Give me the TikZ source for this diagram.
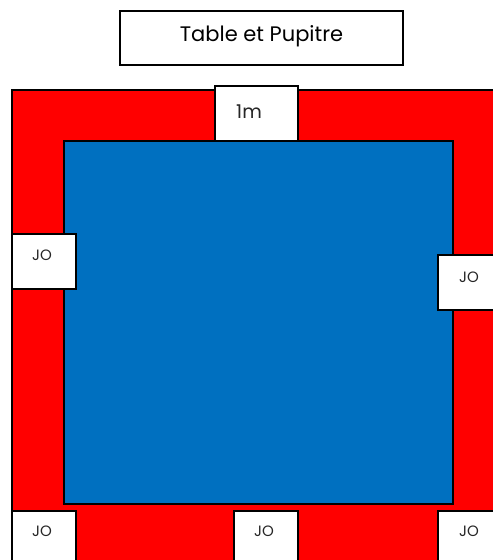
\documentclass[tikz,border=0pt]{standalone}
\usepackage{fontspec}
\setmainfont{Poppins}
\definecolor{matred}{HTML}{FF0000}
\definecolor{matblue}{HTML}{0070C0}
\definecolor{txtgray}{HTML}{262626}
\begin{document}
\begin{tikzpicture}[x=1pt,y=-1pt,
  box/.style={draw=black,line width=1.5pt,fill=white},
  lbl/.style={text=txtgray,inner sep=0pt},
  jo/.style={lbl,font=\fontsize{15}{17}\selectfont}]
\useasboundingbox (0,0) rectangle (493,560);
\begin{scope}
\clip (0,0) rectangle (493,560);
% red area
\draw[box,fill=matred] (12,90) rectangle (505,575);
% blue square
\draw[box,fill=matblue] (64,141) rectangle (453,504);
% title
\draw[box] (120,11) rectangle (403,65);
\node[lbl,font=\fontsize{21}{24}\selectfont,text=black] (title) at (261.5,36) {Table et Pupitre};
% 1m
\draw[box] (215,86) rectangle (298,141);
\node[lbl,font=\fontsize{19}{21}\selectfont] (onem) at (249,112) {1m};
% JO boxes
\draw[box] (12,234) rectangle (76,289);
\node[jo] (jo1) at (42,255) {JO};
\draw[box] (438,255) rectangle (505,310);
\node[jo] (jo2) at (469,277) {JO};
\draw[box] (12,511) rectangle (76,575);
\node[jo] (jo3) at (42,531) {JO};
\draw[box] (234,511) rectangle (298,575);
\node[jo] (jo4) at (264,531) {JO};
\draw[box] (438,511) rectangle (505,575);
\node[jo] (jo5) at (469,531) {JO};
\end{scope}
\end{tikzpicture}
\end{document}
